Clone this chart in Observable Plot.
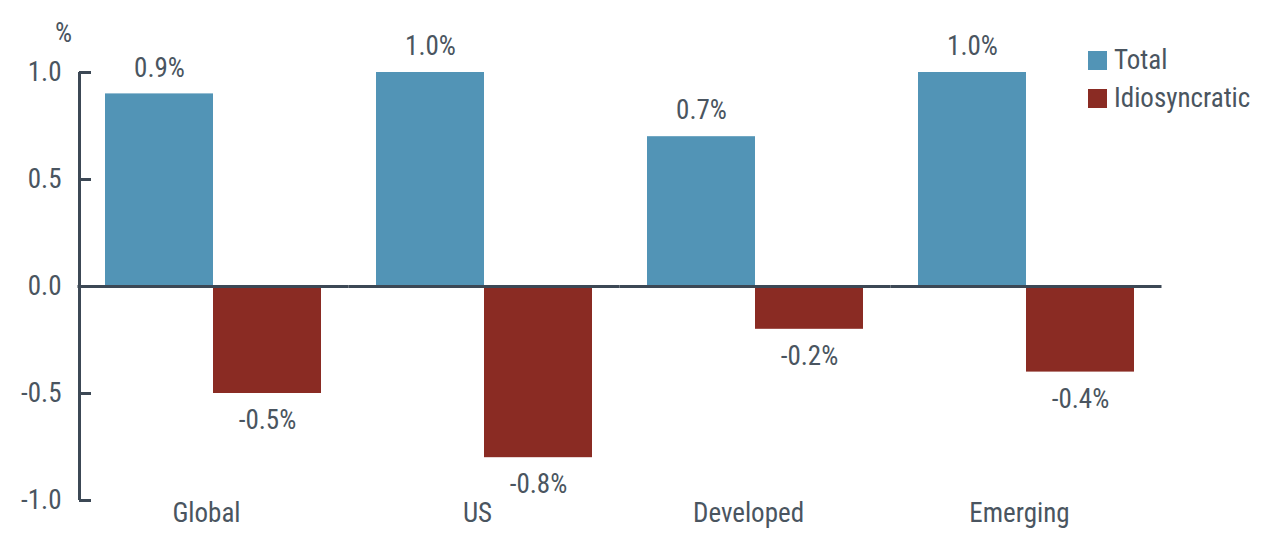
<!DOCTYPE html>
<html><head><meta charset="utf-8">
<script src="https://cdn.jsdelivr.net/npm/d3@7"></script>
<script src="https://cdn.jsdelivr.net/npm/@observablehq/plot@0.6"></script>
<style>
body{margin:0;background:#fff;}
#wrap{position:relative;width:1263px;height:543px;font-family:"Liberation Sans Narrow","Roboto Condensed","Noto Sans","DejaVu Sans Condensed",sans-serif;font-stretch:condensed;color:#4a5560;}
#wrap svg, #wrap svg text{font-stretch:condensed;}
#unit{position:absolute;left:55px;top:17px;font-size:27px;}
#legend{position:absolute;left:1088px;top:41px;font-size:27px;}
.row{display:flex;align-items:center;height:38px;}
.sw{width:19px;height:19px;margin-right:7px;}
</style></head><body><div id="wrap"></div>
<script>
const regions = ["Global", "US", "Developed", "Emerging"];
const series = ["Total", "Idiosyncratic"];
const totalValues = [0.9, 1.0, 0.7, 1.0];
const idioValues = [-0.5, -0.8, -0.2, -0.4];
const yTicks = [-1.0, -0.5, 0.0, 0.5, 1.0];
const colors = ["#5294b6", "#8a2b23"];
const unitLabel = "%";

const data = regions.flatMap((r, i) => [
  {region: r, series: series[0], value: totalValues[i]},
  {region: r, series: series[1], value: idioValues[i]}
]);

const axisColor = "#3c4855";
const textColor = "#4a5560";
const font = '"Liberation Sans Narrow","Roboto Condensed","Noto Sans","DejaVu Sans Condensed",sans-serif';

const chart = Plot.plot({
  width: 1263, height: 543,
  marginLeft: 77, marginRight: 101, marginTop: 72, marginBottom: 43,
  style: {fontFamily: font, fontSize: "27px", color: textColor, background: "transparent", overflow: "visible"},
  fx: {domain: regions, paddingInner: 0.203, paddingOuter: 0.1, label: null},
  x: {domain: series, padding: 0, axis: null},
  y: {domain: [-1, 1]},
  color: {domain: series, range: colors},
  marks: [
    Plot.barY(data, {fx: "region", x: "series", y: "value", fill: "series"}),
    Plot.ruleY([0], {stroke: axisColor, strokeWidth: 3, insetLeft: -27.5, insetRight: -27.5}),
    Plot.ruleX(data, {filter: (d, i) => i === 0, fx: "region", x: "series", y1: yTicks[0], y2: yTicks[yTicks.length - 1], dx: -80, stroke: axisColor, strokeWidth: 3}),
    Plot.text(data, {filter: d => d.value > 0, fx: "region", x: "series", y: "value", text: d => d.value.toFixed(1) + "%", dy: -26, fill: textColor}),
    Plot.text(data, {filter: d => d.value < 0, fx: "region", x: "series", y: "value", text: d => d.value.toFixed(1) + "%", dy: 27, fill: textColor}),
    Plot.axisY(yTicks, {tickFormat: d => d.toFixed(1), tickSize: -12, tickPadding: 30, dx: -26, stroke: axisColor, strokeWidth: 3, color: textColor, label: null}),
    Plot.axisFx({anchor: "bottom", tickSize: 0, tickPadding: 2, label: null, dx: -7, color: textColor})
  ]
});

const wrap = d3.select("#wrap");
wrap.node().appendChild(chart);
d3.select(chart).style("position", "absolute").style("left", "0px").style("top", "0px");
wrap.append("div").attr("id", "unit").text(unitLabel);
const lg = wrap.append("div").attr("id", "legend");
series.forEach((s, i) => {
  const row = lg.append("div").attr("class", "row");
  row.append("div").attr("class", "sw").style("background", colors[i]);
  row.append("span").text(s);
});
</script></body></html>
